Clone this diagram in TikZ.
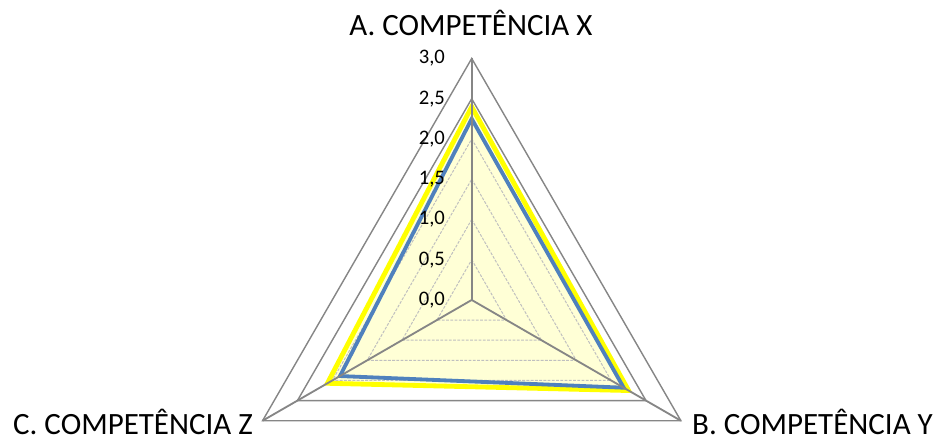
\documentclass[tikz,border=0pt]{standalone}
\usepackage{fontspec}
\setmainfont{Carlito}
\usetikzlibrary{calc}
\definecolor{gridgrey}{HTML}{868686}
\definecolor{minorgrey}{HTML}{BFBFBF}
\definecolor{seriesyellow}{HTML}{FFFF00}
\definecolor{seriesblue}{HTML}{4F81BD}
\definecolor{seriesfill}{HTML}{FFFFD6}

\begin{document}
\begin{tikzpicture}
    \useasboundingbox (-11.72,-3.503) rectangle (11.585,7.453);
    % filled area of the yellow series
    \fill[seriesfill] (90:4.8) -- (-30:4.5) -- (210:4.14) -- cycle;
    \foreach \r in {1,2,3,4}
        \draw[minorgrey, line width=.7pt, dash pattern=on 2pt off 1pt] (90:\r) -- (-30:\r) -- (210:\r) -- cycle;
    \foreach \r in {5,6}
        \draw[gridgrey, line width=1pt] (90:\r) -- (-30:\r) -- (210:\r) -- cycle;
    \draw[seriesyellow, line width=3.4pt] (90:4.8) -- (-30:4.5) -- (210:4.14) -- cycle;
    \draw[seriesblue, line width=2.7pt] (90:4.5) -- (-30:4.36) -- (210:3.78) -- cycle;
    \draw[gridgrey, line width=1.3pt] (0,0) -- (90:6) coordinate (A);
    \draw[gridgrey, line width=1.3pt] (0,0) -- (-30:6) coordinate (B);
    \draw[gridgrey, line width=1.3pt] (0,0) -- (210:6) coordinate (C);
    \foreach \v/\t in {0/{0,0},1/{0,5},2/{1,0},3/{1,5},4/{2,0},5/{2,5},6/{3,0}}
        \node[anchor=east, inner sep=0pt, font=\fontsize{14.6}{17}\selectfont] (tick\v) at (-.66,\v) {\t};
    \node[anchor=base, inner sep=0pt, font=\fontsize{21.9}{26}\selectfont] (labA) at (-.02,6.56) {A. COMPETÊNCIA X};
    \node[anchor=base west, inner sep=0pt, font=\fontsize{21.9}{26}\selectfont] (labB) at (5.47,-3.33) {B. COMPETÊNCIA Y};
    \node[anchor=base east, inner sep=0pt, font=\fontsize{21.9}{26}\selectfont] (labC) at (-5.43,-3.33) {C. COMPETÊNCIA Z};
\end{tikzpicture}
\end{document}
